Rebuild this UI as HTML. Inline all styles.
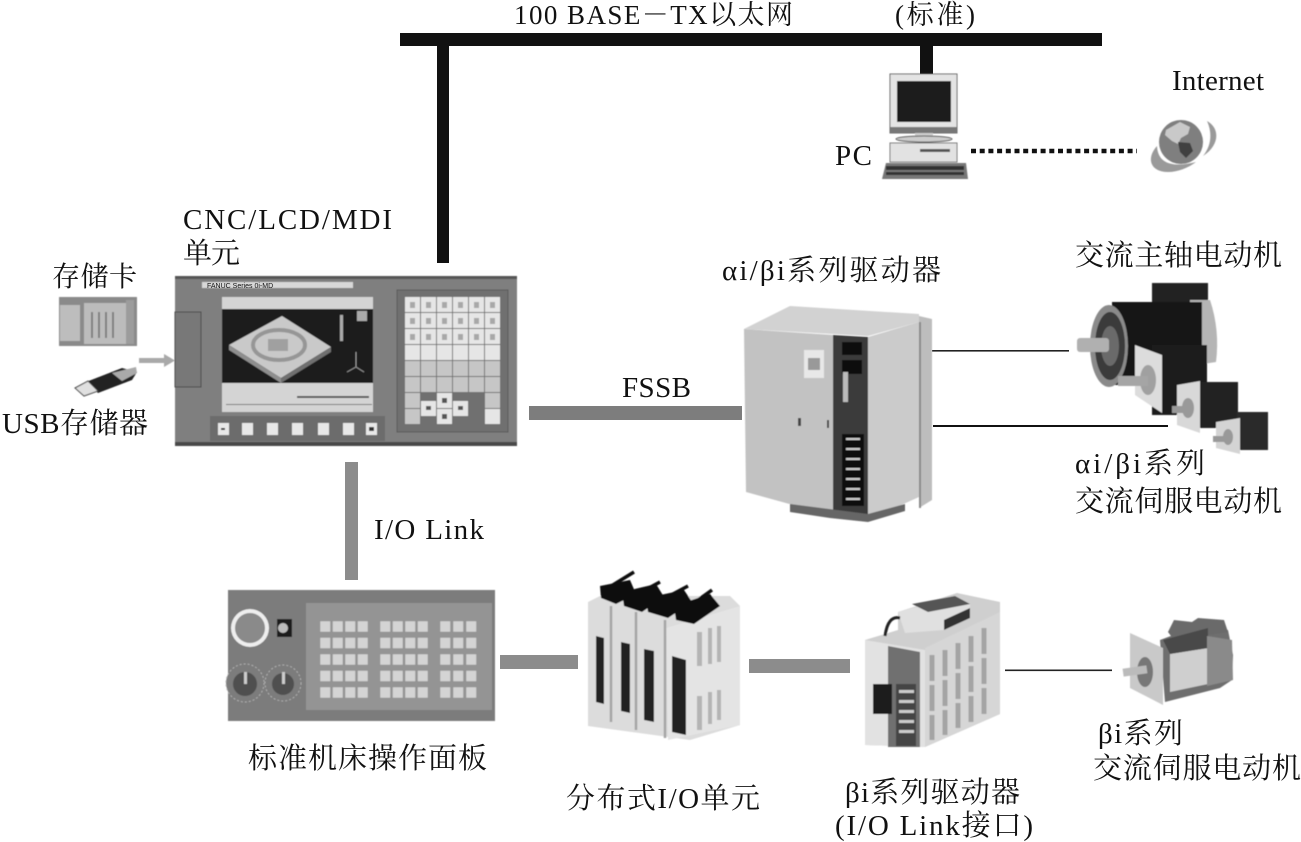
<!DOCTYPE html>
<html lang="zh"><head><meta charset="utf-8"><title>FANUC CNC</title>
<style>
html,body{margin:0;padding:0;background:#fff;width:1301px;height:842px;overflow:hidden}
svg{display:block}
text{font-family:"Liberation Serif","Noto Serif CJK SC",serif;fill:#111;font-size:29px}
</style></head><body>
<svg width="1301" height="842" viewBox="0 0 1301 842" xmlns="http://www.w3.org/2000/svg">
<defs>
<filter id="b" x="-5%" y="-5%" width="110%" height="110%"><feGaussianBlur stdDeviation="0.6"/></filter>
<rect id="k" width="15" height="15" fill="#e6e6e6"/>
<rect id="g" width="15" height="15" fill="#c6c6c6"/>
<rect id="p" width="10.5" height="11" fill="#d4d4d4" stroke="#8a8a8a" stroke-width=".4"/>
<rect id="sk" width="11" height="12" fill="#e8e8e8"/>
</defs>
<rect width="1301" height="842" fill="#fff"/>

<!-- connectors -->
<rect x="400" y="33" width="702" height="13" fill="#111"/>
<rect x="437" y="46" width="12" height="217" fill="#111"/>
<rect x="920" y="46" width="13" height="28" fill="#111"/>
<rect x="529" y="406" width="213" height="14" fill="#7d7d7d"/>
<rect x="345" y="462" width="13" height="118" fill="#8c8c8c"/>
<rect x="500" y="655" width="78" height="14" fill="#8c8c8c"/>
<rect x="749" y="659" width="101" height="14" fill="#8c8c8c"/>
<rect x="932" y="350" width="137" height="1.6" fill="#222"/>
<rect x="933" y="425" width="235" height="2" fill="#111"/>
<rect x="1005" y="669.5" width="107" height="1.6" fill="#222"/>
<line x1="971" y1="151" x2="1137" y2="151" stroke="#111" stroke-width="4.5" stroke-dasharray="5 3.7"/>

<g filter="url(#b)">
<!-- CNC panel -->
<rect x="175" y="276" width="342" height="170" fill="#7f7f7f"/>
<rect x="175" y="276" width="342" height="3" fill="#555"/>
<rect x="175" y="442" width="342" height="4" fill="#4a4a4a"/>
<rect x="202" y="282" width="151" height="6" fill="#d8d8d8"/>
<rect x="175" y="312" width="26" height="75" fill="#787878" stroke="#4a4a4a"/>
<rect x="222" y="297" width="151" height="115" fill="#d4d4d4"/>
<rect x="222" y="309" width="151" height="74" fill="#1c1c1c"/>
<polygon points="229,345 282,316 331,347 281,378" fill="#c9c9c9"/>
<polygon points="229,345 281,378 281,383 229,350" fill="#8e8e8e"/>
<polygon points="331,347 281,378 281,383 331,352" fill="#707070"/>
<ellipse cx="279" cy="345" rx="26" ry="15" fill="none" stroke="#969696" stroke-width="4"/>
<rect x="268" y="339" width="20" height="12" fill="#a0a0a0"/>
<rect x="340" y="315" width="3" height="26" fill="#aaa"/>
<rect x="357" y="311" width="10" height="10" fill="#aaa"/>
<path d="M356 352V367M356 367L347 372M356 367L364 372" stroke="#999" fill="none"/>
<rect x="297" y="396" width="72" height="2" fill="#555"/>
<rect x="226" y="404" width="146" height="1" fill="#777"/>
<rect x="210" y="416" width="175" height="25" fill="#6c6c6c"/>
<use href="#sk" x="218" y="423"/><use href="#sk" x="242" y="423"/><use href="#sk" x="267" y="423"/><use href="#sk" x="292" y="423"/><use href="#sk" x="318" y="423"/><use href="#sk" x="343" y="423"/><use href="#sk" x="366" y="423"/>
<rect x="221" y="428" width="4" height="2" fill="#333"/><rect x="369" y="427" width="5" height="4" fill="#333"/>
<rect x="397" y="290" width="111" height="142" fill="#6f6f6f" stroke="#5a5a5a"/>
<!-- keys -->
<g>
<use href="#k" x="405" y="297"/><use href="#k" x="421" y="297"/><use href="#k" x="437" y="297"/><use href="#k" x="453" y="297"/><use href="#k" x="469" y="297"/><use href="#k" x="485" y="297"/>
<use href="#k" x="405" y="313"/><use href="#k" x="421" y="313"/><use href="#k" x="437" y="313"/><use href="#k" x="453" y="313"/><use href="#k" x="469" y="313"/><use href="#k" x="485" y="313"/>
<use href="#k" x="405" y="329"/><use href="#k" x="421" y="329"/><use href="#k" x="437" y="329"/><use href="#k" x="453" y="329"/><use href="#k" x="469" y="329"/><use href="#k" x="485" y="329"/>
<use href="#k" x="405" y="345"/><use href="#k" x="421" y="345"/><use href="#k" x="437" y="345"/><use href="#k" x="453" y="345"/><use href="#k" x="469" y="345"/><use href="#k" x="485" y="345"/>
<use href="#g" x="405" y="361"/><use href="#g" x="421" y="361"/><use href="#g" x="437" y="361"/><use href="#g" x="453" y="361"/><use href="#g" x="469" y="361"/><use href="#g" x="485" y="361"/>
<use href="#g" x="405" y="377"/><use href="#g" x="421" y="377"/><use href="#g" x="437" y="377"/><use href="#g" x="453" y="377"/><use href="#g" x="469" y="377"/><use href="#g" x="485" y="377"/>
<use href="#g" x="405" y="393"/><use href="#g" x="405" y="409"/><use href="#k" x="421" y="401"/><use href="#k" x="437" y="393"/><use href="#k" x="437" y="409"/><use href="#k" x="453" y="401"/><use href="#g" x="485" y="393"/><use href="#k" x="485" y="409"/>
</g>
<g fill="#a8a8a8">
<rect x="410" y="302" width="5" height="6"/><rect x="426" y="302" width="5" height="6"/><rect x="442" y="302" width="5" height="6"/><rect x="458" y="302" width="5" height="6"/><rect x="474" y="302" width="5" height="6"/><rect x="490" y="302" width="5" height="6"/>
<rect x="410" y="318" width="5" height="6"/><rect x="426" y="318" width="5" height="6"/><rect x="442" y="318" width="5" height="6"/><rect x="458" y="318" width="5" height="6"/><rect x="474" y="318" width="5" height="6"/><rect x="490" y="318" width="5" height="6"/>
<rect x="410" y="334" width="5" height="6"/><rect x="426" y="334" width="5" height="6"/><rect x="442" y="334" width="5" height="6"/><rect x="458" y="334" width="5" height="6"/><rect x="474" y="334" width="5" height="6"/><rect x="490" y="334" width="5" height="6"/>
<rect x="426" y="406" width="5" height="4" fill="#555"/><rect x="442" y="398" width="5" height="5" fill="#555"/><rect x="442" y="414" width="5" height="5" fill="#555"/><rect x="458" y="406" width="5" height="4" fill="#555"/>
</g>

<!-- memory card -->
<rect x="59" y="297" width="78" height="49" fill="#8a8a8a"/>
<rect x="60" y="305" width="20" height="36" fill="#bdbdbd"/>
<rect x="84" y="303" width="42" height="41" fill="#bcbcbc"/>
<rect x="126" y="300" width="8" height="44" fill="#9c9c9c"/>
<path d="M92 312V338M99 312V338M106 312V338M113 312V338" stroke="#808080" stroke-width="2"/>
<!-- USB -->
<polygon points="86,382 122,368 137,372 132,380 98,393" fill="#222"/>
<polygon points="112,373 136,367 137,373 122,381" fill="#aaa"/>
<polygon points="75,388 88,381 98,391 84,396" fill="#e0e0e0" stroke="#444"/>
<!-- arrow -->
<polygon points="139,358 164,358 164,354 175,360.5 164,367 164,363 139,363" fill="#a9a9a9"/>

<!-- PC -->
<rect x="890" y="74" width="67" height="59" fill="#e4e4e4" stroke="#666"/>
<rect x="897" y="81" width="54" height="41" fill="#1e1e1e"/>
<rect x="890" y="127" width="67" height="6" fill="#777"/>
<rect x="915" y="133" width="18" height="5" fill="#ccc"/>
<ellipse cx="924" cy="139" rx="28" ry="3" fill="#ccc" stroke="#555"/>
<rect x="890" y="143" width="67" height="19" fill="#e2e2e2" stroke="#777"/>
<rect x="920" y="149" width="30" height="3" fill="#555"/>
<polygon points="886,163 966,163 968,179 882,179" fill="#777"/>
<rect x="886" y="166" width="78" height="4" fill="#333"/><rect x="886" y="172" width="78" height="3" fill="#333"/>
<!-- globe -->
<path d="M1207 121C1220 128 1220 145 1203 156C1212 145 1212 132 1207 121Z" fill="#9a9a9a"/>
<path d="M1157 146C1146 158 1150 172 1168 172C1178 172 1188 168 1196 162C1180 166 1158 168 1157 146Z" fill="#9a9a9a"/>
<circle cx="1181" cy="142" r="22" fill="#7f7f7f"/>
<path d="M1166 130l14-8 10 5-2 7-7 4-3 6-6-3-7-6z" fill="#c9c9c9"/>
<path d="M1178 142l12 1 3 8-7 7-6-6z" fill="#3f3f3f"/>

<!-- large drive -->
<polygon points="744,329 790,306 919,314 919,322 868,336 833,334" fill="#d2d2d2"/>
<polygon points="919,316 932,319 932,500 919,508" fill="#bdbdbd"/>
<polygon points="919,322 919,508 921,508 921,322" fill="#8a8a8a"/>
<polygon points="744,329 833,335 833,516 746,492" fill="#c2c2c2"/>
<polygon points="868,337 919,322 919,497 868,520" fill="#cbcbcb"/>
<polygon points="833,335 868,337 868,520 833,516" fill="#3a3a3a"/>
<rect x="842" y="342" width="20" height="13" fill="#111"/><rect x="842" y="360" width="20" height="14" fill="#111"/>
<rect x="842" y="434" width="22" height="72" fill="#111"/>
<g fill="#ccc"><rect x="846" y="438" width="14" height="2"/><rect x="846" y="448" width="14" height="2"/><rect x="846" y="458" width="14" height="2"/><rect x="846" y="468" width="14" height="2"/><rect x="846" y="478" width="14" height="2"/><rect x="846" y="488" width="14" height="2"/><rect x="846" y="498" width="14" height="2"/></g>
<rect x="804" y="350" width="20" height="28" fill="#e8e8e8"/><rect x="808" y="358" width="12" height="12" fill="#999"/>
<rect x="843" y="372" width="5" height="30" fill="#bbb"/>
<rect x="798" y="418" width="3" height="8" fill="#444"/><rect x="827" y="420" width="2" height="8" fill="#444"/>
<polygon points="790,512 830,518 868,522 905,511 905,504 868,514 790,504" fill="#666"/>

<!-- big motors -->
<rect x="1152" y="283" width="56" height="20" fill="#222"/>
<path d="M1190 300h20q10 30 6 62l-26 4z" fill="#b5b5b5"/>
<rect x="1112" y="302" width="90" height="83" fill="#161616"/>
<ellipse cx="1109" cy="346" rx="19" ry="41" fill="#8a8a8a"/>
<ellipse cx="1110" cy="346" rx="15" ry="34" fill="#3a3a3a"/>
<ellipse cx="1110" cy="346" rx="9" ry="20" fill="#6a6a6a"/>
<rect x="1077" y="338" width="32" height="14" rx="3" fill="#b0b0b0"/>
<rect x="1152" y="345" width="55" height="70" fill="#1c1c1c"/>
<polygon points="1135,345 1162,355 1162,413 1135,395" fill="#dcdcdc"/>
<ellipse cx="1148" cy="380" rx="8" ry="15" fill="#a0a0a0"/>
<rect x="1118" y="376" width="30" height="10" fill="#a5a5a5"/>
<rect x="1196" y="382" width="42" height="46" fill="#222"/>
<polygon points="1177,385 1200,381 1200,433 1177,425" fill="#d8d8d8"/>
<ellipse cx="1188" cy="408" rx="6" ry="10" fill="#999"/>
<rect x="1172" y="406" width="16" height="7" fill="#999"/>
<rect x="1237" y="412" width="31" height="38" fill="#2a2a2a"/>
<polygon points="1216,422 1240,418 1240,454 1216,448" fill="#d4d4d4"/>
<ellipse cx="1228" cy="437" rx="5" ry="8" fill="#999"/>
<rect x="1213" y="436" width="12" height="6" fill="#999"/>

<!-- operator panel -->
<rect x="228" y="590" width="267" height="131" fill="#7c7c7c"/>
<rect x="306" y="603" width="186" height="107" fill="#949494"/>
<circle cx="250" cy="628" r="19" fill="#eee"/><circle cx="250" cy="628" r="15" fill="#8a8a8a"/>
<rect x="277" y="619" width="15" height="18" fill="#1e1e1e"/><circle cx="283" cy="628" r="5" fill="#bbb"/>
<circle cx="245" cy="683" r="19" fill="#7c7c7c" stroke="#b0b0b0" stroke-dasharray="2 2"/><circle cx="245" cy="684" r="12" fill="#4f4f4f"/>
<circle cx="283" cy="683" r="18" fill="#7c7c7c" stroke="#b0b0b0" stroke-dasharray="2 2"/><circle cx="283" cy="684" r="11" fill="#4f4f4f"/>
<rect x="244" y="672" width="3" height="12" fill="#ccc"/><rect x="282" y="672" width="3" height="12" fill="#ccc"/>
<g>
<use href="#p" x="320" y="621"/><use href="#p" x="332.5" y="621"/><use href="#p" x="345" y="621"/><use href="#p" x="357.5" y="621"/><use href="#p" x="380" y="621"/><use href="#p" x="392.5" y="621"/><use href="#p" x="405" y="621"/><use href="#p" x="417.5" y="621"/><use href="#p" x="440" y="621"/><use href="#p" x="453" y="621"/><use href="#p" x="466" y="621"/>
<use href="#p" x="320" y="637.5"/><use href="#p" x="332.5" y="637.5"/><use href="#p" x="345" y="637.5"/><use href="#p" x="357.5" y="637.5"/><use href="#p" x="380" y="637.5"/><use href="#p" x="392.5" y="637.5"/><use href="#p" x="405" y="637.5"/><use href="#p" x="417.5" y="637.5"/><use href="#p" x="440" y="637.5"/><use href="#p" x="453" y="637.5"/><use href="#p" x="466" y="637.5"/>
<use href="#p" x="320" y="654"/><use href="#p" x="332.5" y="654"/><use href="#p" x="345" y="654"/><use href="#p" x="357.5" y="654"/><use href="#p" x="380" y="654"/><use href="#p" x="392.5" y="654"/><use href="#p" x="405" y="654"/><use href="#p" x="417.5" y="654"/><use href="#p" x="440" y="654"/><use href="#p" x="453" y="654"/><use href="#p" x="466" y="654"/>
<use href="#p" x="320" y="670.5"/><use href="#p" x="332.5" y="670.5"/><use href="#p" x="345" y="670.5"/><use href="#p" x="357.5" y="670.5"/><use href="#p" x="380" y="670.5"/><use href="#p" x="392.5" y="670.5"/><use href="#p" x="405" y="670.5"/><use href="#p" x="417.5" y="670.5"/><use href="#p" x="440" y="670.5"/><use href="#p" x="453" y="670.5"/><use href="#p" x="466" y="670.5"/>
<use href="#p" x="320" y="687"/><use href="#p" x="332.5" y="687"/><use href="#p" x="345" y="687"/><use href="#p" x="357.5" y="687"/><use href="#p" x="380" y="687"/><use href="#p" x="392.5" y="687"/><use href="#p" x="405" y="687"/><use href="#p" x="417.5" y="687"/><use href="#p" x="440" y="687"/><use href="#p" x="453" y="687"/><use href="#p" x="466" y="687"/>
</g>

<!-- distributed IO -->
<polygon points="588,602 600,596 730,596 740,606 740,725 690,740 588,726" fill="#dcdcdc"/>
<polygon points="666,628 740,606 740,725 668,740" fill="#e4e4e4"/>
<path d="M611 606V722M636 612V730M665 620V738" stroke="#a4a4a4" stroke-width="2.5"/>
<polygon points="596,636 604,638 604,704 596,702" fill="#222"/>
<polygon points="621,642 630,644 630,713 621,711" fill="#222"/>
<polygon points="644,649 654,651 654,722 644,720" fill="#222"/>
<polygon points="672,656 686,660 686,735 672,732" fill="#222"/>
<g fill="#b4b4b4"><rect x="697" y="632" width="5" height="34"/><rect x="708" y="628" width="4" height="36"/><rect x="717" y="626" width="4" height="36"/><rect x="697" y="696" width="5" height="34"/><rect x="708" y="692" width="4" height="32"/><rect x="717" y="690" width="4" height="30"/></g>
<g fill="#111">
<polygon points="600,586 630,580 636,594 616,604 601,598"/>
<polygon points="622,592 656,584 664,597 642,612 624,606"/>
<polygon points="646,598 684,590 692,602 668,618 648,612"/>
<polygon points="674,606 710,594 720,606 694,624 676,620"/>
<path d="M608 588L634 572M632 597L660 582M656 603L688 586M684 610L712 590" stroke="#111" stroke-width="3.5" fill="none"/>
</g>

<!-- servo drive -->
<polygon points="898,612 957,593 1000,602 1000,714 925,747 865,745 865,640 898,630" fill="#cfcfcf"/>
<polygon points="898,612 955,596 970,604 970,612 944,630 905,633" fill="#e0e0e0"/>
<polygon points="912,604 955,596 970,604 928,612" fill="#555"/>
<polygon points="944,620 970,608 970,618 944,630" fill="#333"/>
<polygon points="925,648 1000,612 1000,714 925,747" fill="#d6d6d6"/>
<polygon points="865,640 925,650 925,747 865,745" fill="#e2e2e2"/>
<polygon points="888,646 920,652 920,747 888,747" fill="#6f6f6f"/>
<rect x="873" y="684" width="19" height="30" fill="#1c1c1c"/>
<rect x="896" y="684" width="20" height="62" fill="#444"/>
<g fill="#ccc"><rect x="899" y="690" width="15" height="3"/><rect x="899" y="700" width="15" height="3"/><rect x="899" y="710" width="15" height="3"/><rect x="899" y="720" width="15" height="3"/><rect x="899" y="730" width="15" height="3"/></g>
<path d="M885 636Q888 615 900 618" stroke="#222" stroke-width="3" fill="none"/>
<path d="M932 655V740M945 650V735M958 643V728M971 636V722M984 628V716" stroke="#a4a4a4" stroke-width="5" stroke-dasharray="26 4"/>

<!-- small motor -->
<polygon points="1160,640 1192,628 1228,630 1233,655 1232,680 1220,688 1165,702" fill="#6e6e6e"/>
<path d="M1168 632l6-12 18 2 6-4 26 2 4 12-40 6-14 2z" fill="#6a6a6a"/>
<polygon points="1170,654 1208,648 1208,684 1170,692" fill="#cfcfcf"/>
<polygon points="1163,640 1208,628 1208,648 1170,654" fill="#4a4a4a"/>
<polygon points="1207,636 1232,640 1233,680 1207,686" fill="#8a8a8a"/>
<polygon points="1130,633 1163,648 1163,705 1130,688" fill="#c9c9c9"/>
<ellipse cx="1145" cy="672" rx="8" ry="15" fill="#777"/>
<rect x="1123" y="667" width="24" height="8" transform="rotate(-8 1135 671)" fill="#bbb"/>
</g>
<text x="207" y="288" style="font-size:7px;font-family:'Liberation Sans',sans-serif" fill="#333">FANUC Series 0i-MD</text>

<!-- labels -->
<text x="514" y="24" textLength="279" style="font-size:27px">100 BASE－TX以太网</text>
<text x="895" y="24" textLength="80" style="font-size:27px">(标准)</text>
<text x="1172" y="90" textLength="92">Internet</text>
<text x="835" y="165" textLength="37">PC</text>
<text x="183" y="229" textLength="209">CNC/LCD/MDI</text>
<text x="183" y="263" textLength="57">单元</text>
<text x="52" y="286" textLength="85" style="font-size:28px">存储卡</text>
<text x="2" y="433" textLength="146">USB存储器</text>
<text x="722" y="280" textLength="219">αi/βi系列驱动器</text>
<text x="1075" y="265" textLength="207">交流主轴电动机</text>
<text x="622" y="397" textLength="69">FSSB</text>
<text x="1075" y="473" textLength="130">αi/βi系列</text>
<text x="1075" y="511" textLength="207">交流伺服电动机</text>
<text x="374" y="539" textLength="110">I/O Link</text>
<text x="248" y="768" textLength="239">标准机床操作面板</text>
<text x="566" y="808" textLength="194">分布式I/O单元</text>
<text x="845" y="802" textLength="175">βi系列驱动器</text>
<text x="835" y="835" textLength="198">(I/O Link接口)</text>
<text x="1098" y="743" textLength="85">βi系列</text>
<text x="1093" y="778" textLength="208">交流伺服电动机</text>
</svg>
</body></html>
